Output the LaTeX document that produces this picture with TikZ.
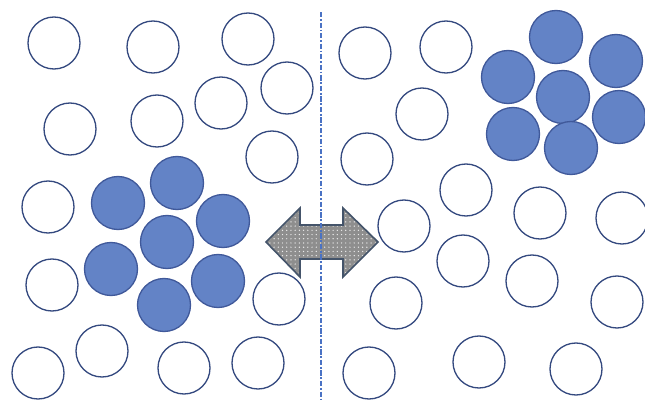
\documentclass[tikz,border=0pt]{standalone}
\usetikzlibrary{patterns.meta}
\definecolor{ringc}{HTML}{34497F}
\definecolor{fillc}{HTML}{6383C6}
\definecolor{fillline}{HTML}{40599A}
\definecolor{arrowg}{HTML}{8E8E8E}
\definecolor{arrowl}{HTML}{44546A}
\definecolor{linec}{HTML}{4A72C4}
\tikzset{
  ring/.style={draw=ringc, line width=0.75pt, fill=white},
  ball/.style={draw=fillline, line width=0.75pt, fill=fillc},
  dblarrow/.style={draw=arrowl, line width=0.9pt, preaction={fill=arrowg},
    pattern={Dots[distance=2.4pt, radius=0.4pt]}, pattern color=white!85!gray},
  divider/.style={draw=linec, line width=0.9pt, dash pattern=on 3pt off 1pt on 1pt off 1pt}
}
\begin{document}
\begin{tikzpicture}[x=0.02cm, y=-0.02cm]
\useasboundingbox (0,0) rectangle (645,399);
% open circles
\foreach \x/\y in {54/43,153/47,248/39,287/88,221/103,157/121,70/129,272/157,
  48/207,52/285,279/299,102/351,38/373,184/368,258/363,
  365/53,446/47,422/114,367/159,466/190,404/226,540/213,622/218,
  463/261,532/281,396/303,617/302,369/373,479/362,576/369}
  \draw[ring] (\x,\y) circle[radius=26];
% filled clusters
\foreach \x/\y in {177/183,118/203,223/221,167/242,111/269,218/281,164/305,
  556/37,508/77,616/61,563/97,619/117,513/134,571/148}
  \draw[ball] (\x,\y) circle[radius=26.5];
% double arrow
\draw[dblarrow] (266,242) -- (300,208) -- (300,225) -- (343,225) -- (343,208)
  -- (378,242) -- (343,277) -- (343,259) -- (300,259) -- (300,277) -- cycle;
% divider
\coordinate (top) at (321,12);
\coordinate (bot) at (321,399);
\draw[divider] (top) -- (bot);
\end{tikzpicture}
\end{document}
